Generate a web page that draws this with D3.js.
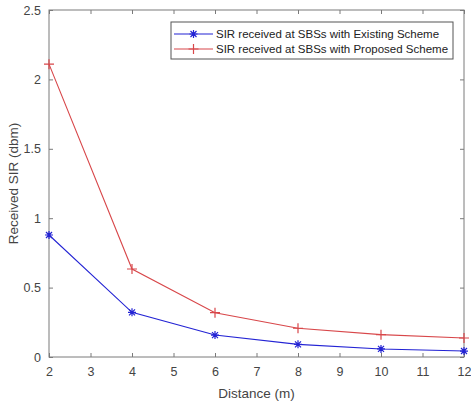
<!DOCTYPE html>
<html><head><meta charset="utf-8">
<script src="https://cdn.jsdelivr.net/npm/d3@7"></script>
<style>body{margin:0;background:#fff;} text{font-family:"Liberation Sans",Arial,sans-serif;}</style>
</head><body>
<svg id="c" width="471" height="407"></svg>
<script>
const distances = [2, 4, 6, 8, 10, 12];
const existing = [0.879, 0.322, 0.158, 0.091, 0.058, 0.043];
const proposed = [2.11, 0.634, 0.319, 0.207, 0.161, 0.137];
const xTicks = [2,3,4,5,6,7,8,9,10,11,12];
const yTicks = [0,0.5,1,1.5,2,2.5];
const seriesNames = ["SIR received at SBSs with Existing Scheme","SIR received at SBSs with Proposed Scheme"];

const svg = d3.select("#c");
const L=49, R=464, T=10, B=357;
const x = d3.scaleLinear().domain([2,12]).range([L,R]);
const y = d3.scaleLinear().domain([0,2.5]).range([B,T]);
const axisCol="#7a7a7a", txtCol="#444";

// box
svg.append("rect").attr("x",L).attr("y",T).attr("width",R-L).attr("height",B-T)
  .attr("fill","#fff").attr("stroke",axisCol).attr("stroke-width",1);

function styleAxis(g){
  g.select(".domain").remove();
  g.selectAll(".tick line").attr("stroke",axisCol);
  g.selectAll(".tick text").attr("fill",txtCol).style("font-size","12.5px");
}
svg.append("g").attr("transform",`translate(0,${B})`)
  .call(d3.axisBottom(x).tickValues(xTicks).tickSizeInner(-4).tickSizeOuter(0).tickPadding(10).tickFormat(d3.format("d")))
  .call(styleAxis);
svg.append("g").attr("transform",`translate(0,${T})`)
  .call(d3.axisTop(x).tickValues(xTicks).tickSizeInner(-4).tickSizeOuter(0).tickFormat(""))
  .call(styleAxis);
svg.append("g").attr("transform",`translate(${L},0)`)
  .call(d3.axisLeft(y).tickValues(yTicks).tickSizeInner(-4).tickSizeOuter(0).tickPadding(8).tickFormat(d=>d))
  .call(styleAxis);
svg.append("g").attr("transform",`translate(${R},0)`)
  .call(d3.axisRight(y).tickValues(yTicks).tickSizeInner(-4).tickSizeOuter(0).tickFormat(""))
  .call(styleAxis);

// labels
svg.append("text").attr("x",(L+R)/2).attr("y",398).attr("text-anchor","middle")
  .attr("fill",txtCol).style("font-size","13.5px").text("Distance (m)");
svg.append("text").attr("transform",`translate(18,${(T+B)/2}) rotate(-90)`).attr("text-anchor","middle")
  .attr("fill",txtCol).style("font-size","13.5px").text("Received SIR (dbm)");

const colors=["#2323d4","#d8474a"];
const line = d3.line().x((d,i)=>x(distances[i])).y(d=>y(d));
function star(g,cx,cy,c){
  const s=4;
  g.append("path").attr("d",`M${cx-s},${cy}H${cx+s}M${cx},${cy-s}V${cy+s}M${cx-3},${cy-3}L${cx+3},${cy+3}M${cx-3},${cy+3}L${cx+3},${cy-3}`)
   .attr("stroke",c).attr("stroke-width",1.2).attr("fill","none");
}
function plus(g,cx,cy,c){
  const s=5;
  g.append("path").attr("d",`M${cx-s},${cy}H${cx+s}M${cx},${cy-s}V${cy+s}`)
   .attr("stroke",c).attr("stroke-width",1.2).attr("fill","none");
}
[existing,proposed].forEach((data,k)=>{
  svg.append("path").datum(data).attr("d",line).attr("fill","none")
    .attr("stroke",colors[k]).attr("stroke-width",1.1);
  const g=svg.append("g");
  data.forEach((v,i)=>{ (k===0?star:plus)(g,x(distances[i]),y(v),colors[k]); });
});

// legend
const lg=svg.append("g");
lg.append("rect").attr("x",171).attr("y",22).attr("width",282).attr("height",37)
  .attr("fill","#fff").attr("stroke","#555").attr("stroke-width",1);
seriesNames.forEach((n,k)=>{
  const yy=34+k*15;
  lg.append("line").attr("x1",174).attr("x2",213).attr("y1",yy).attr("y2",yy).attr("stroke",colors[k]).attr("stroke-width",1.1);
  (k===0?star:plus)(lg,193.5,yy,colors[k]);
  lg.append("text").attr("x",216).attr("y",yy+4).attr("fill","#222").style("font-size","11.5px").text(n);
});
</script>
</body></html>
